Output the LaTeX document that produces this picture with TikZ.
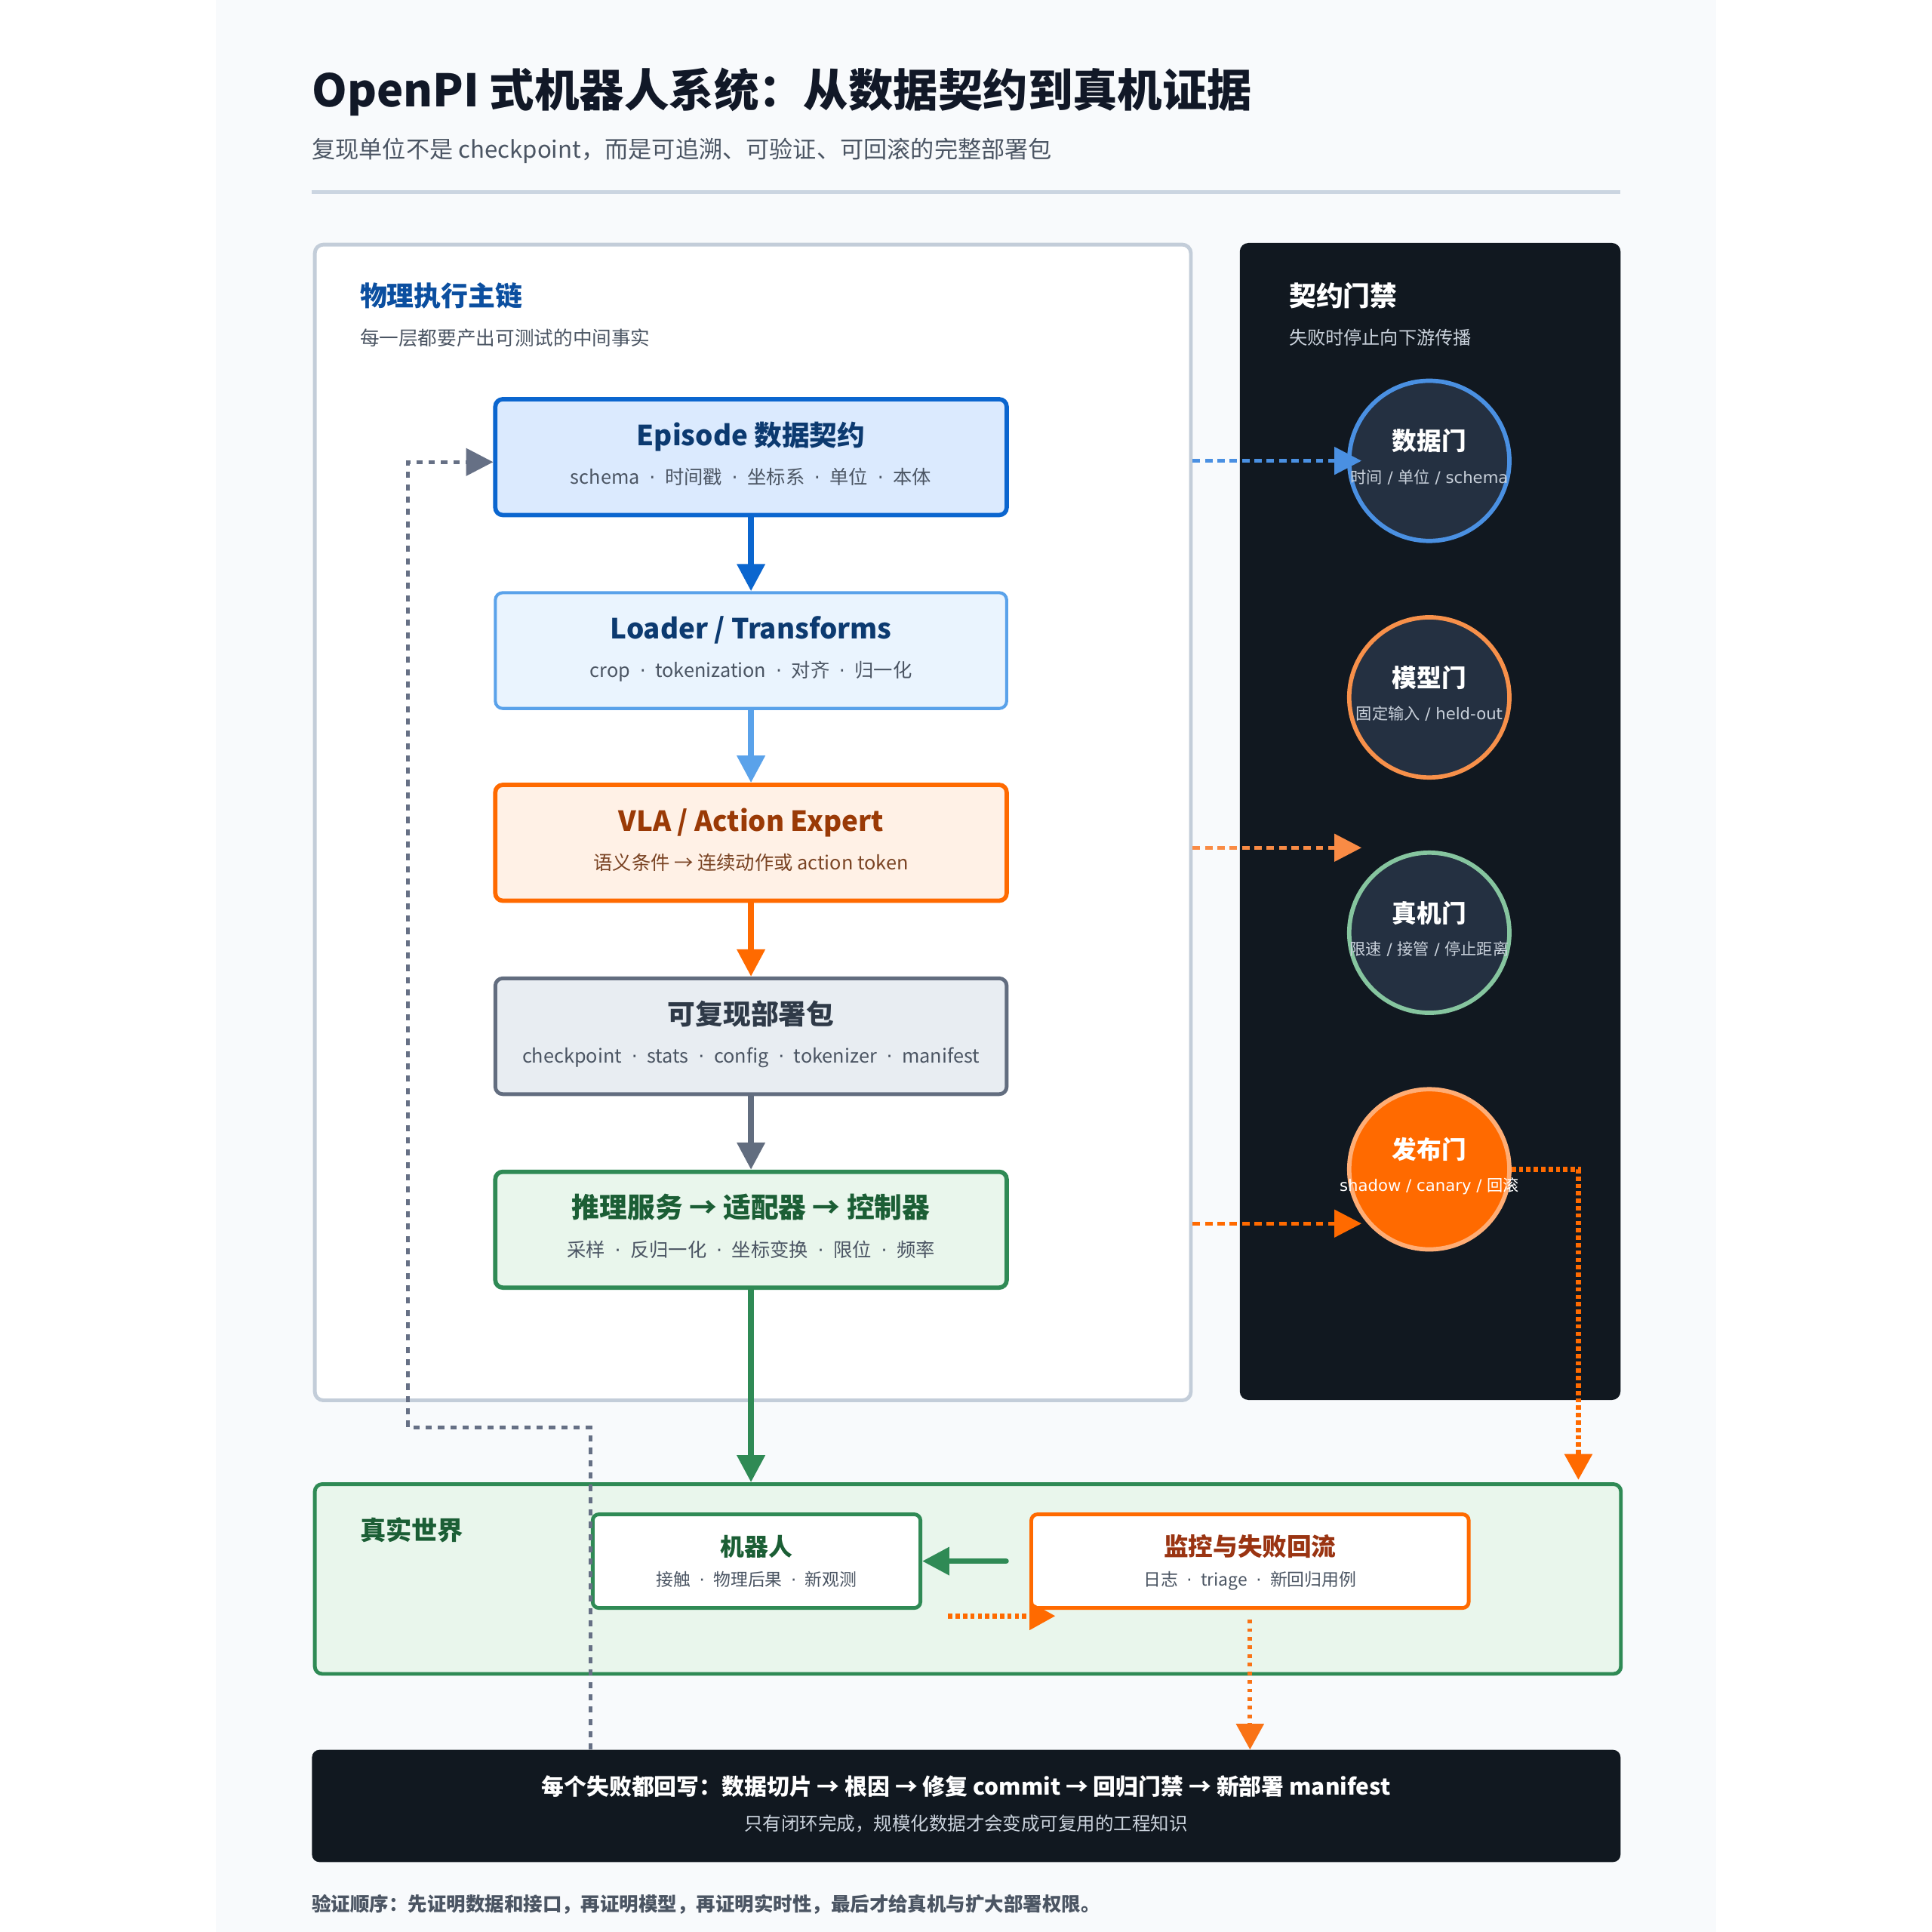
\documentclass[tikz,border=0pt]{standalone}
\usepackage{fontspec}
\setmainfont{Noto Sans CJK SC}
\newfontfamily\dv{DejaVu Sans}
\usetikzlibrary{arrows.meta}
\newcommand\fs[1]{\fontsize{#1}{#1}\selectfont}
\newcommand\sepd{\hspace{0.5em}{\dv ·}\hspace{0.5em}}
\newcommand\gsl{{\dv\ /\ }}
\definecolor{pagebg}{HTML}{F8FAFC}
\definecolor{titlec}{HTML}{111827}
\definecolor{subc}{HTML}{4B5563}
\definecolor{rulec}{HTML}{CBD5E1}
\definecolor{lpborder}{HTML}{C3CDD9}
\definecolor{blueh}{HTML}{0B4FA0}
\definecolor{darkbg}{HTML}{111820}
\definecolor{gatefill}{HTML}{243041}
\definecolor{gsub}{HTML}{C9D1DB}
\definecolor{bAfill}{HTML}{DBEAFE}
\definecolor{bAdraw}{HTML}{0B66CF}
\definecolor{bAtext}{HTML}{0C3A70}
\definecolor{bBfill}{HTML}{EAF4FE}
\definecolor{bBdraw}{HTML}{5AA2EA}
\definecolor{bCfill}{HTML}{FFF1E6}
\definecolor{bCdraw}{HTML}{FF6A00}
\definecolor{bCtext}{HTML}{9A3A06}
\definecolor{bCsub}{HTML}{7A4424}
\definecolor{bDfill}{HTML}{E8EDF2}
\definecolor{bDdraw}{HTML}{626D7F}
\definecolor{bDtext}{HTML}{2F3A48}
\definecolor{bEfill}{HTML}{E9F6EC}
\definecolor{bEdraw}{HTML}{2F8A55}
\definecolor{bEtext}{HTML}{1B5E35}
\definecolor{gAdraw}{HTML}{4A90E2}
\definecolor{gBdraw}{HTML}{F7904A}
\definecolor{gCdraw}{HTML}{86C59F}
\definecolor{gDfill}{HTML}{FF6A00}
\definecolor{gDdraw}{HTML}{FFAD75}
\definecolor{orgL}{HTML}{F98B45}
\definecolor{orgM}{HTML}{F97316}
\definecolor{grayln}{HTML}{667085}
\definecolor{monc}{HTML}{9A3412}
\tikzset{
  boxn/.style={draw, rounded corners=6pt, line width=3pt, minimum width=415pt, minimum height=94pt, inner sep=0pt},
  btitle/.style={anchor=base, inner sep=0pt, font=\fs{22.5}\bfseries},
  bsub/.style={anchor=base, inner sep=0pt, font=\fs{15.5}, text=subc},
  gate/.style={circle, draw, line width=3.5pt, minimum size=130pt, inner sep=0pt, fill=gatefill},
  gtitle/.style={anchor=base, inner sep=0pt, font=\fs{20}\bfseries, text=white},
  gsubt/.style={anchor=base, inner sep=0pt, font=\fs{13}, text=gsub},
  flow/.style={line width=4.5pt, -{Triangle[length=22pt,width=22pt]}},
  gatearr/.style={line width=3pt, dash pattern=on 6pt off 4pt, -{Triangle[length=22pt,width=22pt]}},
  dotor/.style={line width=4pt, dash pattern=on 3.5pt off 2.5pt, -{Triangle[length=21pt,width=22pt]}},
  lbl/.style={anchor=base west, inner sep=0pt},
}
\begin{document}
\begin{tikzpicture}[x=1pt,y=-1pt]
\useasboundingbox (0,0) rectangle (1568,1568);
\fill[white] (0,0) rectangle (1568,1568);
\fill[pagebg] (175,0) rectangle (1393,1568);

% header
\node[lbl, text=titlec, font=\fs{36.4}\bfseries] (title) at (253,86.5) {OpenPI 式机器人系统：从数据契约到真机证据};
\node[lbl, text=subc, font=\fs{19.1}] (subtitle) at (253,128.3) {复现单位不是 checkpoint，而是可追溯、可验证、可回滚的完整部署包};
\draw[rulec, line width=3pt] (253,156) -- (1315,156);

% panels
\node[draw=lpborder, fill=white, line width=3pt, rounded corners=7pt, minimum width=711pt, minimum height=938pt, inner sep=0pt, anchor=north west] (lp) at (254,197) {};
\node[fill=darkbg, rounded corners=7pt, minimum width=309pt, minimum height=939pt, inner sep=0pt, anchor=north west] (rp) at (1006,197) {};
\node[lbl, text=blueh, font=\fs{22}\bfseries] (lpt) at (292,248.4) {物理执行主链};
\node[lbl, text=subc, font=\fs{15.7}] (lps) at (292,280) {每一层都要产出可测试的中间事实};
\node[lbl, text=white, font=\fs{22}\bfseries] (rpt) at (1046,248.4) {契约门禁};
\node[lbl, text=gsub, font=\fs{14.8}] (rps) at (1046,279.6) {失败时停止向下游传播};

% real world panel & banner
\node[draw=bEdraw, fill=bEfill, line width=3pt, rounded corners=6pt, minimum width=1060pt, minimum height=154pt, inner sep=0pt, anchor=north west] (rw) at (254,1203) {};
\node[lbl, text=bEtext, font=\fs{21}\bfseries] (rwt) at (292,1250) {真实世界};
\node[fill=darkbg, rounded corners=6pt, minimum width=1062pt, minimum height=91pt, inner sep=0pt, anchor=north west] (bn) at (253,1420) {};
\node[anchor=base, inner sep=0pt, text=white, font=\fs{18.3}\bfseries] (bnt) at (784,1457) {每个失败都回写：数据切片 → 根因 → 修复 commit → 回归门禁 → 新部署 manifest};
\node[anchor=base, inner sep=0pt, text=gsub, font=\fs{15}] (bns) at (784,1485.7) {只有闭环完成，规模化数据才会变成可复用的工程知识};
\node[lbl, text=subc, font=\fs{15.6}\bfseries] (foot) at (253,1551) {验证顺序：先证明数据和接口，再证明模型，再证明实时性，最后才给真机与扩大部署权限。};

% main chain boxes
\node[boxn, draw=bAdraw, fill=bAfill, line width=3.5pt] (b1) at (609.5,371) {};
\node[boxn, draw=bBdraw, fill=bBfill, line width=2.5pt] (b2) at (609.5,528) {};
\node[boxn, draw=bCdraw, fill=bCfill, line width=3.5pt] (b3) at (609.5,684) {};
\node[boxn, draw=bDdraw, fill=bDfill] (b4) at (609.5,841) {};
\node[boxn, draw=bEdraw, fill=bEfill, line width=3.5pt] (b5) at (609.5,998) {};

\node[btitle, text=bAtext] (b1t) at (609.5,361.5) {Episode 数据契约};
\node[bsub] (b1s) at (609.5,393) {schema\sepd 时间戳\sepd 坐标系\sepd 单位\sepd 本体};
\node[btitle, text=bAtext] (b2t) at (609.5,518.5) {Loader / Transforms};
\node[bsub] (b2s) at (609.5,550) {crop\sepd tokenization\sepd 对齐\sepd 归一化};
\node[btitle, text=bCtext] (b3t) at (609.5,674.5) {VLA / Action Expert};
\node[bsub, text=bCsub] (b3s) at (609.5,706) {语义条件 → 连续动作或 action token};
\node[btitle, text=bDtext] (b4t) at (609.5,831.5) {可复现部署包};
\node[bsub] (b4s) at (609.5,863) {checkpoint\sepd stats\sepd config\sepd tokenizer\sepd manifest};
\node[btitle, text=bEtext] (b5t) at (609.5,988.5) {推理服务 → 适配器 → 控制器};
\node[bsub] (b5s) at (609.5,1020) {采样\sepd 反归一化\sepd 坐标变换\sepd 限位\sepd 频率};

\draw[flow, bAdraw] (b1.south) -- (b2.north);
\draw[flow, bBdraw] (b2.south) -- (b3.north);
\draw[flow, bCdraw] (b3.south) -- (b4.north);
\draw[flow, bDdraw] (b4.south) -- (b5.north);
\draw[flow, bEdraw] (b5.south) -- (b5.south |- rw.north);

% gates
\node[gate, draw=gAdraw] (g1) at (1160,374) {};
\node[gate, draw=gBdraw] (g2) at (1160,566) {};
\node[gate, draw=gCdraw] (g3) at (1160,757) {};
\node[gate, draw=gDdraw, fill=gDfill] (g4) at (1160,949) {};
\node[gtitle] (g1t) at (1160,365.6) {数据门};
\node[gsubt] (g1s) at (1160,392) {时间\gsl 单位{\dv\ / schema}};
\node[gtitle] (g2t) at (1160,557.6) {模型门};
\node[gsubt] (g2s) at (1160,584) {固定输入{\dv\ / held-out}};
\node[gtitle] (g3t) at (1160,748.6) {真机门};
\node[gsubt] (g3s) at (1160,775) {限速\gsl 接管\gsl 停止距离};
\node[gtitle] (g4t) at (1160,940.6) {发布门};
\node[gsubt, text=white] (g4s) at (1160,967) {{\dv shadow / canary / }回滚};

\coordinate (a1s) at (968,374);  \coordinate (a1e) at (1105,374);
\coordinate (a2s) at (968,688);  \coordinate (a2e) at (1105,688);
\coordinate (a3s) at (968,993);  \coordinate (a3e) at (1105,993);
\draw[gatearr, gAdraw] (a1s) -- (a1e);
\draw[gatearr, orgL] (a2s) -- (a2e);
\draw[gatearr, gDfill] (a3s) -- (a3e);

\coordinate (relin) at (1281,1201);
\draw[dotor, gDfill] (g4.east) -| (relin);

% real world boxes
\node[draw=bEdraw, fill=white, line width=3pt, rounded corners=5pt, minimum width=266pt, minimum height=76pt, inner sep=0pt] (rob) at (614,1267) {};
\node[draw=bCdraw, fill=white, line width=3pt, rounded corners=5pt, minimum width=355pt, minimum height=76pt, inner sep=0pt] (mon) at (1014.5,1267) {};
\node[anchor=base, inner sep=0pt, text=bEtext, font=\fs{19.5}\bfseries] (robt) at (614,1262.4) {机器人};
\node[anchor=base, inner sep=0pt, text=subc, font=\fs{14}] (robs) at (614,1287.3) {接触\sepd 物理后果\sepd 新观测};
\node[anchor=base, inner sep=0pt, text=monc, font=\fs{20}\bfseries] (mont) at (1014.5,1262.6) {监控与失败回流};
\node[anchor=base, inner sep=0pt, text=subc, font=\fs{14}] (mons) at (1014.5,1287.3) {日志\sepd triage\sepd 新回归用例};

\draw[flow, bEdraw, line cap=round] ([xshift=-19pt]mon.west) -- (rob.east);
\draw[dotor, gDfill] ([xshift=21pt,yshift=-5pt]rob.south east) -- ([xshift=21pt,yshift=-5pt]mon.south west);
\draw[orgM, line width=3.5pt, dash pattern=on 3pt off 4pt, -{Triangle[length=21pt,width=22pt]}] ([yshift=-8pt]mon.south) -- (mon.south |- bn.north);

% feedback loop
\coordinate (fbA) at (479,1420);
\draw[grayln, line width=3pt, dash pattern=on 5pt off 5pt, -{Triangle[length=22pt,width=22pt]}] (fbA) -- (479,1158.5) -- (331,1158.5) -- (331,375) -- ([yshift=-4pt]b1.west);
\end{tikzpicture}
\end{document}
